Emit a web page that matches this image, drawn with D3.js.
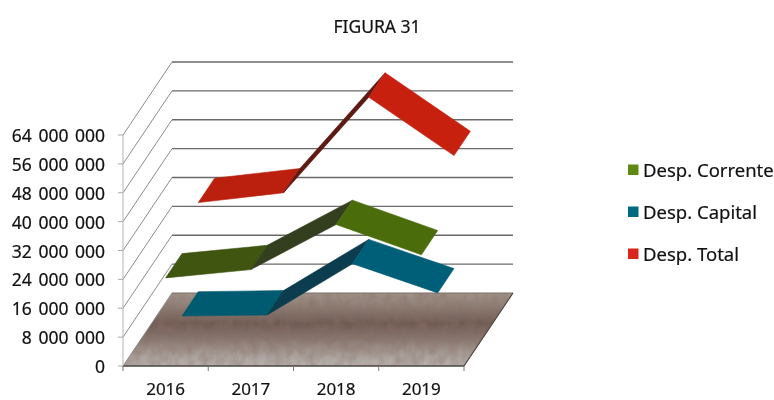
<!DOCTYPE html>
<html><head><meta charset="utf-8">
<script src="https://cdn.jsdelivr.net/npm/d3@7"></script>
<style>html,body{margin:0;padding:0;background:#fff}text{font-family:"Noto Sans",sans-serif;fill:#111;stroke:#111;stroke-width:0.2px}svg{filter:blur(0.35px)}</style>
</head><body><div id="c"></div>
<script>
const title = "FIGURA 31";
const categories = ["2016","2017","2018","2019"];
const corrente = [24400000,26700000,39200000,30800000];
const capital = [7100000,7400000,21600000,13500000];
const total = [31800000,34500000,61000000,44800000];
const yTicks = [0,8000000,16000000,24000000,32000000,40000000,48000000,56000000,64000000];
const seriesNames = ["Desp. Corrente","Desp. Capital","Desp. Total"];
const legendColors = ["#5f8a12","#006a80","#d8261a"];
const segColors = [["#3f5510","#333f1f","#4a6c0a"],["#005a70","#0b3d4e","#005f78"],["#bb1f0e","#5c1a12","#c8200f"]];

const W=774,H=400;
const svg=d3.select("#c").append("svg").attr("width",W).attr("height",H).style("display","block");
const x=d3.scalePoint().domain(categories).range([0,1]).padding(0.5);
const xs=d3.scaleLinear().domain([0,1]).range([123,464]);
const y=d3.scaleLinear().domain([0,64000000]).range([366,135]);
const dx=d3.scaleLinear().domain([0,1]).range([0,49]);
const dy=d3.scaleLinear().domain([0,1]).range([0,-73]);
const P=(u,v,z)=>[xs(u)+dx(z),y(v)+dy(z)];
const poly=pts=>pts.map(p=>p.map(n=>n.toFixed(1)).join(",")).join(" ");

const defs=svg.append("defs");
const g=defs.append("linearGradient").attr("id","floor").attr("x1",0).attr("y1",0).attr("x2",0).attr("y2",1);
[[0,"#a2958c"],[0.18,"#8f7f76"],[0.42,"#6e5a53"],[0.62,"#87766f"],[0.85,"#aba19c"],[1,"#b8b2b0"]]
  .forEach(s=>g.append("stop").attr("offset",s[0]).attr("stop-color",s[1]));
const f=defs.append("filter").attr("id","mottle").attr("x",0).attr("y",0).attr("width",1).attr("height",1);
f.append("feTurbulence").attr("type","fractalNoise").attr("baseFrequency","0.12 0.09").attr("numOctaves",3).attr("seed",4).attr("result","n");
f.append("feColorMatrix").attr("in","n").attr("type","matrix")
  .attr("values","0 0 0 0 0.25  0 0 0 0 0.16  0 0 0 0 0.13  0.9 0 0 0 -0.25").attr("result","t");
f.append("feComposite").attr("in","t").attr("in2","SourceGraphic").attr("operator","in").attr("result","c");
f.append("feMerge").call(m=>{m.append("feMergeNode").attr("in","SourceGraphic");m.append("feMergeNode").attr("in","c");});

// floor
svg.append("polygon").attr("points",poly([P(0,0,0),P(1,0,0),P(1,0,1),P(0,0,1)]))
  .attr("fill","url(#floor)").attr("filter","url(#mottle)");
// back wall grid
svg.selectAll(".bk").data(yTicks.slice(1)).join("line")
  .attr("x1",P(0,0,1)[0]).attr("x2",P(1,0,1)[0])
  .attr("y1",d=>P(0,d,1)[1]).attr("y2",d=>P(0,d,1)[1])
  .attr("stroke","#6a6a6a").attr("stroke-width",1.4);
svg.append("line").attr("x1",P(0,0,1)[0]).attr("x2",P(1,0,1)[0])
  .attr("y1",P(0,0,1)[1]).attr("y2",P(0,0,1)[1]).attr("stroke","#7d6f68").attr("stroke-width",1.2);
// side wall
svg.selectAll(".sd").data(yTicks).join("line")
  .attr("x1",P(0,0,0)[0]).attr("x2",P(0,0,1)[0])
  .attr("y1",d=>P(0,d,0)[1]).attr("y2",d=>P(0,d,1)[1])
  .attr("stroke","#8c8c8c").attr("stroke-width",1);
// floor edges
svg.append("line").attr("x1",P(1,0,0)[0]).attr("y1",P(1,0,0)[1]).attr("x2",P(1,0,1)[0]).attr("y2",P(1,0,1)[1])
  .attr("stroke","#4a4440").attr("stroke-width",1.2);
svg.append("line").attr("x1",P(0,0,0)[0]).attr("y1",P(0,0,0)[1]).attr("x2",P(1,0,0)[0]).attr("y2",P(1,0,0)[1])
  .attr("stroke","#4a4440").attr("stroke-width",1.3);
// front vertical axis
svg.append("line").attr("x1",123).attr("x2",123).attr("y1",y(64000000)).attr("y2",y(0)).attr("stroke","#b4b4b4");
// y ticks and labels
const yA=svg.append("g");
yA.selectAll("line").data(yTicks).join("line").attr("x1",118).attr("x2",123)
  .attr("y1",d=>y(d)).attr("y2",d=>y(d)).attr("stroke","#aaa");
yA.selectAll("text").data(yTicks).join("text").attr("x",105).attr("y",d=>y(d)+7)
  .attr("text-anchor","end").attr("font-size",17.5).attr("word-spacing",2)
  .text(d=>d===0?"0":d3.format(",")(d).replace(/,/g," "));
// x ticks and labels
const xA=svg.append("g");
xA.selectAll("line").data(d3.range(5)).join("line")
  .attr("x1",d=>xs(d/4)).attr("x2",d=>xs(d/4)).attr("y1",366).attr("y2",371).attr("stroke","#777");
xA.selectAll("text").data(categories).join("text").attr("x",d=>xs(x(d))).attr("y",395)
  .attr("text-anchor","middle").attr("font-size",17).text(d=>d);

// ribbons: back to front
[[total,2,2/3,1],[capital,1,1/3,2/3],[corrente,0,0,1/3]].forEach(([vals,ci,z0,z1])=>{
  const gr=svg.append("g");
  for(let i=0;i<vals.length-1;i++){
    const a=x(categories[i]),b=x(categories[i+1]);
    gr.append("polygon")
      .attr("points",poly([P(a,vals[i],z0),P(b,vals[i+1],z0),P(b,vals[i+1],z1),P(a,vals[i],z1)]))
      .attr("fill",segColors[ci][i]).attr("stroke",segColors[ci][i]).attr("stroke-width",0.6);
  }
});

// title
svg.append("text").attr("x",377).attr("y",33).attr("text-anchor","middle").attr("font-size",17.5).text(title);
// legend
const ly=[170,212,254];
const lg=svg.append("g");
lg.selectAll("rect").data(seriesNames).join("rect").attr("x",628).attr("y",(d,i)=>ly[i]-5.5)
  .attr("width",10.5).attr("height",10.5).attr("fill",(d,i)=>legendColors[i]);
lg.selectAll("text").data(seriesNames).join("text").attr("x",643).attr("y",(d,i)=>ly[i]+7)
  .attr("font-size",18.5).text(d=>d);
</script></body></html>
